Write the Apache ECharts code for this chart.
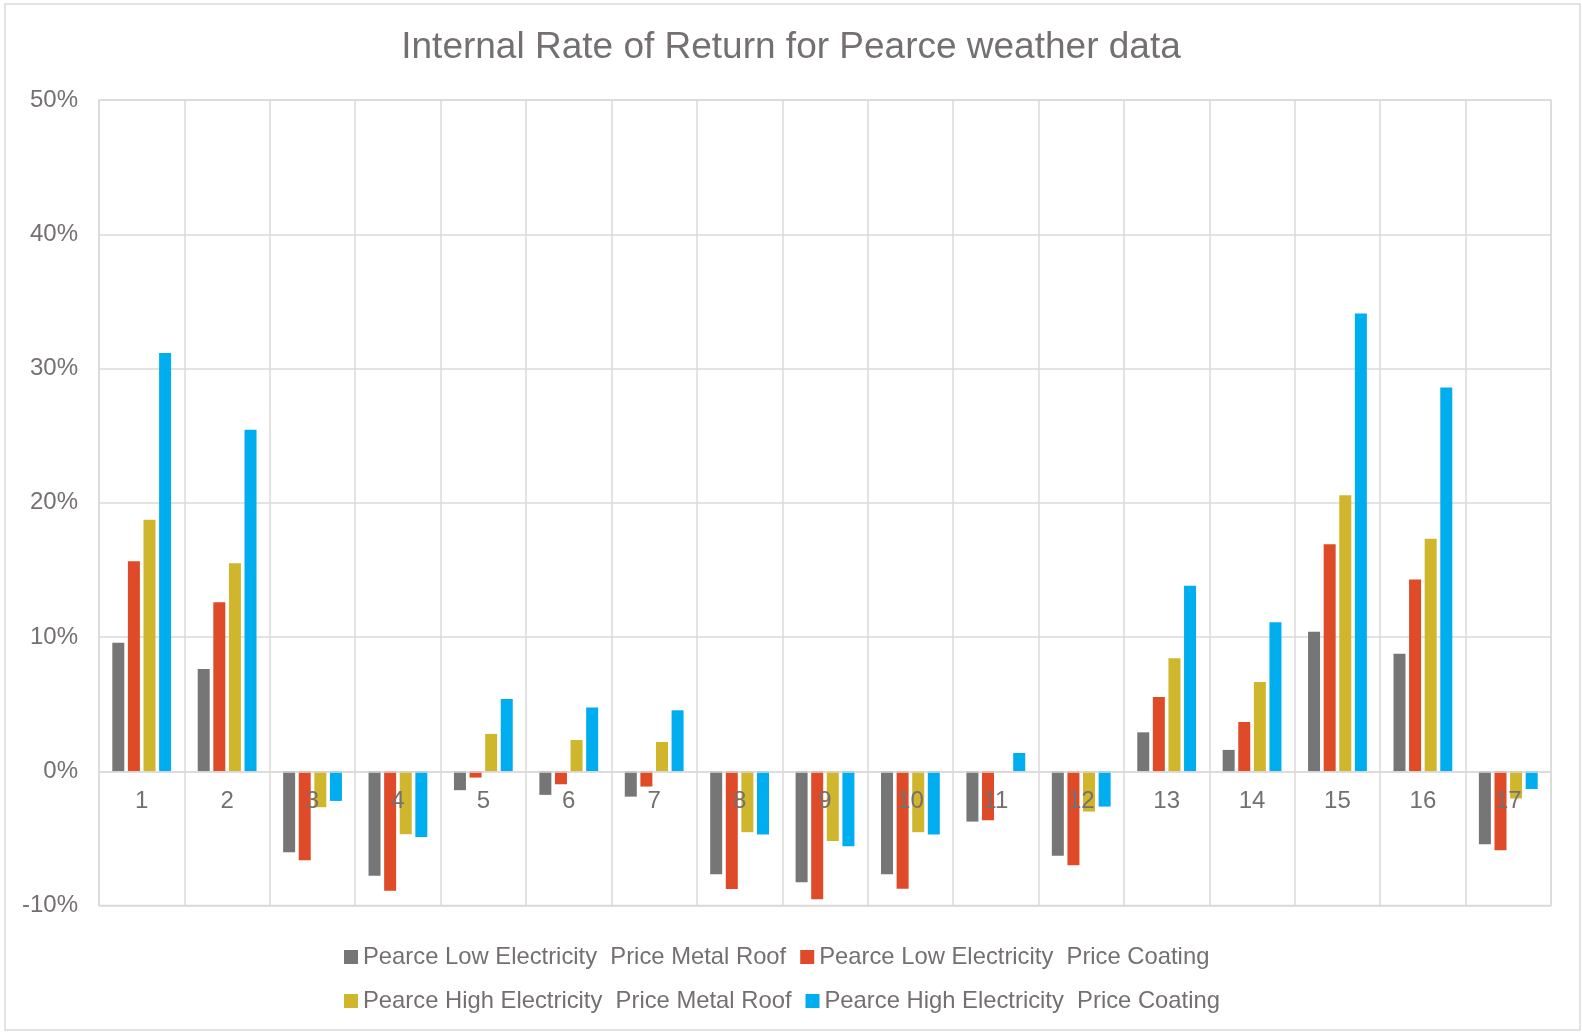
<!DOCTYPE html>
<html>
<head>
<meta charset="utf-8">
<title>Internal Rate of Return for Pearce weather data</title>
<script src="https://cdn.jsdelivr.net/npm/echarts@6/dist/echarts.min.js"></script>
<style>
  html, body { margin: 0; padding: 0; background: #fff; }
  #main { width: 1582px; height: 1032px; }
</style>
</head>
<body>
<div id="main"></div>
<script>
// categories (x axis)
var cases = ['1', '2', '3', '4', '5', '6', '7', '8', '9', '10', '11', '12', '13', '14', '15', '16', '17'];

// series names
var seriesNames = [
	'Pearce Low Electricity  Price Metal Roof',
	'Pearce Low Electricity  Price Coating',
	'Pearce High Electricity  Price Metal Roof',
	'Pearce High Electricity  Price Coating'
];

// IRR values in percent
var lowMetal = [9.58, 7.62, -6.03, -7.79, -1.41, -1.76, -1.89, -7.67, -8.26, -7.67, -3.75, -6.30, 2.90, 1.59, 10.40, 8.75, -5.43];
var lowCoating = [15.65, 12.59, -6.63, -8.91, -0.47, -0.97, -1.14, -8.78, -9.53, -8.76, -3.65, -7.00, 5.53, 3.67, 16.90, 14.29, -5.88];
var highMetal = [18.73, 15.50, -2.68, -4.69, 2.78, 2.33, 2.18, -4.54, -5.19, -4.54, -0.05, -3.00, 8.42, 6.65, 20.55, 17.32, -2.03];
var highCoating = [31.15, 25.43, -2.21, -4.89, 5.38, 4.74, 4.54, -4.71, -5.58, -4.71, 1.36, -2.63, 13.82, 11.09, 34.10, 28.59, -1.32];

// y axis ticks (percent)
var yMin = -10, yMax = 50, yStep = 10;

var colors = ['#767676', '#df4b29', '#cfb62d', '#00adee'];
var textColor = '#757070';
var gridColor = '#dcd9d9';
var font = 'Liberation Sans, Arial, sans-serif';

var gridTop = 100, gridBottom = 126.5;
var plotHeight = 1032 - gridTop - gridBottom;
// the category axis sits on the 0% line, so shift it up from the bottom
var zeroOffset = -plotHeight * (0 - yMin) / (yMax - yMin);

var chart = echarts.init(document.getElementById('main'));

function barSeries(name, data) {
	return {
		name: name,
		type: 'bar',
		data: data,
		barWidth: 12,
		barGap: '30%'
	};
}

var option = {
	color: colors,
	animation: false,
	textStyle: { fontFamily: font },
	title: {
		text: 'Internal Rate of Return for Pearce weather data',
		left: 'center',
		top: 29,
		padding: 0,
		textStyle: {
			color: textColor,
			fontSize: 37,
			fontWeight: 'normal',
			fontFamily: font
		}
	},
	// outer chart border
	graphic: [{
		type: 'rect',
		shape: { x: 5, y: 4, width: 1575, height: 1026 },
		style: { fill: 'none', stroke: gridColor, lineWidth: 1.5 },
		silent: true
	}],
	legend: {
		data: seriesNames,
		left: 344,
		top: 942,
		width: 900,
		itemWidth: 14,
		itemHeight: 14,
		itemGap: 14,
		padding: 0,
		icon: 'rect',
		textStyle: {
			color: textColor,
			fontSize: 23.8,
			lineHeight: 30,
			fontFamily: font
		}
	},
	grid: {
		left: 99,
		right: 31,
		top: gridTop,
		bottom: gridBottom,
		show: true,
		borderColor: gridColor,
		borderWidth: 1.5
	},
	xAxis: [{
		type: 'category',
		data: cases,
		axisLine: { show: false },
		axisTick: { show: false },
		axisLabel: { show: false },
		splitLine: { show: true, lineStyle: { color: gridColor, width: 1.5 } }
	}, {
		// second copy of the category axis, placed on the zero line, drawn over the bars
		type: 'category',
		data: cases,
		position: 'bottom',
		offset: zeroOffset,
		z: 10,
		axisLine: { onZero: false, lineStyle: { color: gridColor, width: 1.5 } },
		axisTick: { show: false },
		axisLabel: {
			color: textColor,
			fontSize: 24,
			margin: 18,
			fontFamily: font
		},
		splitLine: { show: false }
	}],
	yAxis: {
		type: 'value',
		min: yMin,
		max: yMax,
		interval: yStep,
		axisLine: { show: false },
		axisTick: { show: false },
		axisLabel: {
			formatter: '{value}%',
			color: textColor,
			fontSize: 24,
			margin: 21,
			fontFamily: font
		},
		splitLine: { lineStyle: { color: gridColor, width: 1.5 } }
	},
	series: [
		barSeries(seriesNames[0], lowMetal),
		barSeries(seriesNames[1], lowCoating),
		barSeries(seriesNames[2], highMetal),
		barSeries(seriesNames[3], highCoating)
	]
};

chart.setOption(option);
</script>
</body>
</html>
